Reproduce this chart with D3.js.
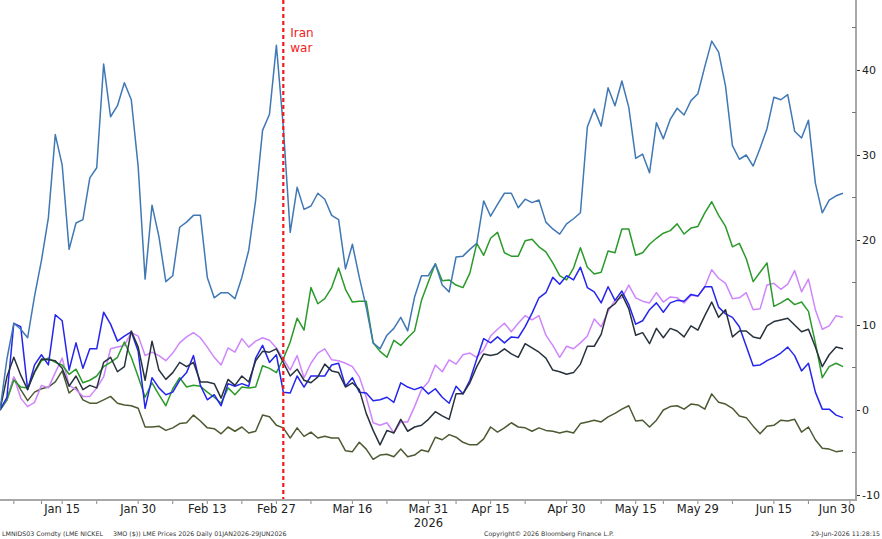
<!DOCTYPE html>
<html><head><meta charset="utf-8">
<script src="https://cdn.jsdelivr.net/npm/d3@7"></script>
<style>html,body{margin:0;padding:0;background:#fff;}svg{display:block;}</style>
</head><body>
<svg id="c" width="882" height="539"></svg>
<script>
// x positions are trading-day indices (0 = base day, 122 = 29 Jun 2026)
const tickLabels = ["Jan 15","Jan 30","Feb 13","Feb 27","Mar 16","Mar 31","Apr 15","Apr 30","May 15","May 29","Jun 15","Jun 30"];
const tickIdx = [9,20,30,40,51,62,71,82,92,101,112,123];
const minorTickIdx = [2,6,14,25,35,45,56,66,76,87,96,106,117];
const yTicks = [-10,0,10,20,30,40];
const yMinor = [-5,5,15,25,35,45];
const eventIdx = 41;
const eventLabel = ["Iran","war"];

const steelBlue = [0,6,10.2,9.5,8.5,13.4,17.6,22.6,32.4,28.8,18.9,22,22.4,27.3,28.5,40.7,34.5,35.8,38.5,36.5,28.6,15.4,24.1,20.4,15.1,15.8,21.5,22.1,22.9,22.9,15.6,13.2,13.8,13.8,13.1,15.6,18.8,24.7,32.9,34.8,42.9,33.3,20.9,26.2,23.6,24,25.5,24.8,22.9,22.4,16.6,19.5,15.6,12.1,7.9,7.2,8.8,9.6,10.9,9.3,13.3,15.8,15.8,17.2,14.7,13.9,18,18.1,18.9,19.6,24.6,22.8,24.2,25.5,25.5,23.8,24.8,24.4,24.7,22.1,21.3,20.7,21.9,22.5,23.2,33.3,35.4,33.4,37.9,35.8,38.7,35.6,29.6,30.1,27.9,33.8,31.9,34.2,35.5,34.7,36.4,37.2,40.4,43.4,42.1,38.1,31.1,29.5,30,28.7,30.8,33.1,36.8,36.5,37.1,32.8,32,34.1,26.7,23.2,24.7,25.2,25.5];
const green = [0,1.2,3.5,2.7,2.6,4.4,5.8,6.1,5.6,5.3,4.2,4.8,3.2,3.5,4,5.1,5.6,6.2,8,6.2,3.9,1.5,3.2,1.8,0.5,2.5,3.8,2.7,2.9,2.8,2.1,1.5,0.8,2.6,1.8,2.7,2.6,2.7,5.2,4.9,4.4,6,8,10.8,9.4,14.4,12.5,13.1,14.4,16.7,14.2,12.7,12.8,12.8,7.9,6.9,6.2,8.2,7.6,8.5,9.3,12.9,15.1,17.2,15.2,15.3,14.7,14.4,16.1,19.6,18.2,20.2,20.9,18.5,18.1,18.1,19.9,20.1,19.2,18.6,17.3,15.8,15.3,16.7,19.1,16.8,16,16.2,18.7,18.5,21.3,21.3,18.2,18.5,19.5,20.2,20.8,21.1,21.9,20.7,21.4,21.6,23.2,24.5,22.9,21.6,19.2,19.6,17.8,15.1,16.2,17.3,12.2,12.6,13.1,12.4,12.7,11.6,7.9,3.8,5.1,5.5,5.1];
const violet = [0,1.2,3.9,1.4,0.4,0.9,2.9,2.6,4.4,6.1,2.9,2.4,1.6,1.6,2.6,3.9,7.2,7.4,7.6,9.1,8.7,6.4,6.8,6.4,5.8,6.7,7.9,8.6,9.1,8.5,7.4,6.2,5.3,7.3,6.8,8.4,7.4,8.1,8.5,8.2,7.3,6,4.7,6.4,3.8,5.5,6.7,7.2,5.9,5.8,5.5,5.1,3.9,1.5,-1.5,-1.8,-1.5,-2.7,-1.4,-1.4,0.4,2.4,3.3,5.3,4.5,5.9,5.4,6.5,6.7,6.2,7.1,8.7,9.5,10.2,9.2,10.2,11.1,10.6,11.1,8.8,7.6,6.2,7.5,7.2,7.9,8.7,10.7,9.8,11.6,12.9,13.2,14.7,13.2,12.8,12.6,13.8,12.7,13.3,13.2,12.6,13.5,13.4,14.5,16.5,15.5,14.9,13.1,13.2,13.8,11.8,11.9,14.7,14.9,14.2,14.8,16.4,13.9,15.4,11.8,9.5,9.9,11.1,10.9];
const blue = [0,1.5,10.2,9.8,2.4,5.3,6.5,5.3,11.2,10.5,4.7,7.9,4.9,7.2,7.2,11.5,10.1,8.1,8.7,9.2,6.9,0.2,3.8,2.6,1.8,2.1,3.5,4.4,6.4,2.9,1.2,1.8,0.5,3.1,2.8,3.1,2.8,6.1,7.6,5.6,6.5,2.1,2,4,2.7,4,4,4,5.3,5.5,2.8,3.8,2.1,2,1.1,1.2,1.5,0.9,3.2,2.7,2.4,2.7,1.9,2.5,1.5,0.8,2.8,1.9,3.5,6,8.4,7.9,8.6,7.9,8.6,8.5,9.8,11.4,13.2,13.8,15.6,14.8,15.8,15.3,16.8,14.4,13.9,12.6,14.5,12.9,14,12.4,10.1,10.5,11.8,12.6,11.5,12.6,12.9,12.8,13.6,13.4,14.5,14.5,12.1,11.3,10.9,9.8,7.5,5.2,5.3,5.8,6.2,6.7,7.4,6.4,4.6,5.5,2.1,0.1,0.1,-0.6,-0.9];
const dark = [0,3.9,6.2,4.1,2.4,4.5,6,5.9,5.8,4.9,2.8,4,2.4,2.9,2.6,5.6,6.2,4.5,5.1,9.3,7.4,3.5,8.1,4.7,3.6,4.4,5.6,5.1,5.6,3.3,3.3,3.1,1.4,3.6,2.9,4,3.3,5.8,6.9,6.8,7.2,5.6,4,4.8,3.5,3.2,3.9,5.4,4.6,4.4,2.7,3.2,2.4,-0.4,-2.4,-4.1,-2.4,-2.7,-1.1,-2.5,-2,-1.8,-1.1,-0.2,-0.7,-1.1,1.9,1.9,3.2,5.1,6.6,6.4,6.6,7.2,6.6,6.2,7.8,7.3,6.8,6.1,4.7,4.5,4.2,4.4,5.4,7.5,7.5,8.9,11.9,12.5,13.6,11.9,8.8,9.1,7.8,9.6,8.5,9.6,9.3,8.6,9.9,9.4,11.1,12.7,10.9,11.8,8.6,9.3,9.3,8.6,8.4,9.9,10.4,10.6,10.8,10,9.2,9.5,7.4,5.1,6.5,7.4,7.2];
const olive = [0,1.2,3.8,2.4,1.1,2.1,2.5,2.7,3.3,4.6,2,2.7,1.2,0.8,0.8,1.2,1.6,0.8,0.6,0.5,0.2,-2,-2,-1.9,-2.4,-2.1,-1.6,-1.5,-0.6,-1.3,-2.1,-2.2,-2.8,-2,-2.5,-2,-2.7,-2.5,-0.6,-0.8,-1.8,-2.1,-3.3,-2.1,-3.1,-2.6,-3.3,-3.1,-3.3,-3.3,-4.8,-4.9,-3.8,-4.6,-5.8,-5.3,-5.2,-5.5,-4.6,-5.5,-5.3,-4.7,-4.9,-3.2,-3.5,-2.9,-3.2,-3.8,-4.1,-4.1,-3.4,-2,-2.6,-2.1,-1.5,-2,-2.1,-2.5,-2.1,-2.4,-2.5,-2.7,-2.5,-2.7,-1.6,-1.4,-1.2,-1.4,-0.8,-0.4,0.1,0.5,-1.3,-1.2,-2,-1.2,0,0.4,0.5,0.1,0.7,0.6,0.1,1.9,0.9,0.7,0.2,-0.7,-0.9,-1.9,-2.8,-1.9,-1.8,-1.2,-1.3,-1.1,-2.6,-2,-3.5,-4.5,-4.6,-4.9,-4.8];

const seriesList = [
  {name:"olive", values: olive, color:"#4b5a32"},
  {name:"violet", values: violet, color:"#cf85fb"},
  {name:"green", values: green, color:"#2a9a2a"},
  {name:"blue", values: blue, color:"#2525ee"},
  {name:"dark", values: dark, color:"#27323d"},
  {name:"steelBlue", values: steelBlue, color:"#3f78b4"}
];

const svg = d3.select("#c");
const plotRight = 856, plotBottom = 500;
const x = d3.scaleLinear().domain([0,122]).range([0,843]);
const y = d3.scaleLinear().domain([-10,40]).range([495,70]);

// series lines
const line = d3.line().x((d,i)=>x(i)).y(d=>y(d));
svg.append("g").selectAll("path").data(seriesList).join("path")
  .attr("d", d=>line(d.values))
  .attr("fill","none").attr("stroke",d=>d.color)
  .attr("stroke-width",1.5).attr("stroke-linejoin","round");

// event line
svg.append("line").attr("x1",x(eventIdx)).attr("x2",x(eventIdx))
  .attr("y1",0).attr("y2",plotBottom)
  .attr("stroke","#ee1c1c").attr("stroke-width",2.2).attr("stroke-dasharray","4,3");
svg.append("g").selectAll("text").data(eventLabel).join("text")
  .attr("x",x(eventIdx)+7).attr("y",(d,i)=>37+i*15)
  .attr("fill","#ee1c1c").attr("font-family","DejaVu Sans, sans-serif").attr("font-size",12)
  .text(d=>d);

// axes lines
svg.append("line").attr("x1",0).attr("x2",plotRight).attr("y1",plotBottom).attr("y2",plotBottom)
  .attr("stroke","#a8a8a8").attr("stroke-width",2);
svg.append("line").attr("x1",plotRight).attr("x2",plotRight).attr("y1",0).attr("y2",plotBottom+1)
  .attr("stroke","#a8a8a8").attr("stroke-width",2);

// right axis
const yAxis = d3.axisRight(y).tickValues(yTicks).tickSize(3).tickPadding(2).tickFormat(d => String(d));
const ga = svg.append("g").attr("transform",`translate(${plotRight+1},0)`).call(yAxis);
ga.select(".domain").remove();
ga.selectAll("line").attr("stroke","#333");
ga.selectAll("text").attr("font-family","DejaVu Sans, sans-serif").attr("font-size",11).attr("fill","#222");
svg.append("g").selectAll("line").data(yMinor).join("line")
  .attr("x1",plotRight-4).attr("x2",plotRight).attr("y1",d=>y(d)).attr("y2",d=>y(d))
  .attr("stroke","#777").attr("stroke-width",1);

// bottom axis ticks & labels
svg.append("g").selectAll("line").data(tickIdx.concat(minorTickIdx)).join("line")
  .attr("x1",d=>Math.min(x(d),plotRight)).attr("x2",d=>Math.min(x(d),plotRight))
  .attr("y1",plotBottom+1).attr("y2",plotBottom+4)
  .attr("stroke","#888").attr("stroke-width",1);
const lbl = svg.append("g").selectAll("text").data(tickLabels).join("text")
  .attr("y",513).attr("font-family","DejaVu Sans, sans-serif").attr("font-size",11.5).attr("fill","#222")
  .attr("text-anchor","middle").text(d=>d)
  .attr("x",(d,i)=>x(tickIdx[i]));
lbl.each(function(d,i){
  const w = this.getComputedTextLength();
  const cx = x(tickIdx[i]);
  if (cx + w/2 > plotRight - 1) d3.select(this).attr("x", plotRight - 1 - w/2);
});
svg.append("text").attr("x",x(62)).attr("y",527).attr("text-anchor","middle")
  .attr("font-family","DejaVu Sans, sans-serif").attr("font-size",11.5).attr("fill","#222").text("2026");

// footer
const ff = "DejaVu Sans, sans-serif";
svg.append("text").attr("x",2).attr("y",536).attr("font-family",ff).attr("font-size",6.3).attr("fill","#333")
  .attr("xml:space","preserve").style("white-space","pre")
  .text("LMNIDS03 Comdty (LME NICKEL     3MO ($)) LME Prices 2026 Daily 01JAN2026-29JUN2026");
svg.append("text").attr("x",484).attr("y",536).attr("font-family",ff).attr("font-size",6.3).attr("fill","#333")
  .text("Copyright\u00A9 2026 Bloomberg Finance L.P.");
svg.append("text").attr("x",880).attr("y",536).attr("text-anchor","end").attr("font-family",ff).attr("font-size",6.3).attr("fill","#333")
  .text("29-Jun-2026 11:28:15");
</script>
</body></html>
